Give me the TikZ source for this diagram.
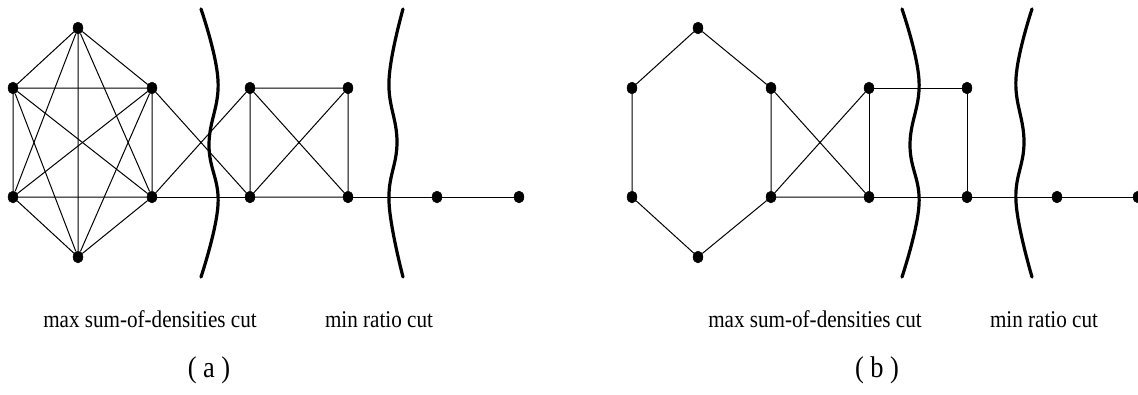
\documentclass[tikz,border=0pt]{standalone}
\usepackage{fontspec}
\setmainfont[FakeStretch=0.88]{Liberation Serif}
\usetikzlibrary{shapes.geometric}

\begin{document}
\begin{tikzpicture}[
    x=1pt,
    y=-1pt,
    node distance=98pt,
    vertex/.style={
        draw,
        fill,
        ellipse,
        inner sep=0pt,
        minimum width=10pt,
        minimum height=12pt
    },
    edge/.style={line width=1pt},
    cut/.style={line width=3.2pt, line cap=round},
    caption/.style={anchor=base, font=\fontsize{24}{24}\selectfont},
    panel/.style={anchor=base, font=\fontsize{30}{30}\selectfont}
]
\useasboundingbox (0,0) rectangle (1138,394);

% Nodes (a)
\node [vertex] (atop) at (78,28) {};
\node [vertex] (aul) at (13,88) {};
\node [vertex] (aur) at (152,88) {};
\node [vertex] (all) at (13,197) {};
\node [vertex] (alr) at (152,197) {};
\node [vertex] (abot) at (78,257) {};
\node [vertex] (asq1) at (250,88) {};
\node [vertex, right of=asq1] (asq2) {};
\node [vertex] (asq3) at (250,197) {};
\node [vertex, right of=asq3] (asq4) {};
\node [vertex, right of=asq4, node distance=89pt] (atail1) {};
\node [vertex, right of=atail1, node distance=82pt] (atail2) {};

% Edges (a)
\draw [edge] (atop) -- (aul) (atop) -- (aur) (atop) -- (all) (atop) -- (alr) (atop) -- (abot);
\draw [edge] (aul) -- (aur) (aul) -- (all) (aul) -- (alr) (aul) -- (abot);
\draw [edge] (aur) -- (all) (aur) -- (alr) (aur) -- (abot);
\draw [edge] (all) -- (alr) (all) -- (abot) (alr) -- (abot);
\draw [edge] (aur) -- (asq3) (alr) -- (asq1);
\draw [edge] (asq1) -- (asq2) -- (asq4) -- (asq3) -- (asq1) (asq1) -- (asq4) (asq2) -- (asq3);
\draw [edge] (alr) -- (asq3) (asq4) -- (atail1) -- (atail2);

% Cuts (a)
\draw [cut] plot [smooth, tension=0.7] coordinates {(201,9) (218,80) (209,145) (218,205) (201,277)};
\draw [cut] plot [smooth, tension=0.7] coordinates {(403,9) (389,80) (397,142) (389,202) (403,277)};

% Nodes (b)
\node [vertex] (btop) at (698,28) {};
\node [vertex] (bul) at (632,88) {};
\node [vertex] (bur) at (771,88) {};
\node [vertex] (bll) at (632,197) {};
\node [vertex] (blr) at (771,197) {};
\node [vertex] (bbot) at (698,257) {};
\node [vertex] (bsq1) at (869,88) {};
\node [vertex, right of=bsq1] (bsq2) {};
\node [vertex] (bsq3) at (869,197) {};
\node [vertex, right of=bsq3] (bsq4) {};
\node [vertex, right of=bsq4, node distance=90pt] (btail1) {};
\node [vertex, right of=btail1, node distance=81pt] (btail2) {};

% Edges (b)
\draw [edge] (btop) -- (bul) -- (bll) -- (bbot) -- (blr) -- (bur) -- (btop);
\draw [edge] (bur) -- (bsq3) (blr) -- (bsq1) (blr) -- (bsq3);
\draw [edge] (bsq3) -- (bsq1) -- (bsq2) -- (bsq4);
\draw [edge] (bsq3) -- (bsq4) -- (btail1) -- (btail2);

% Cuts (b)
\draw [cut] plot [smooth, tension=0.7] coordinates {(902,9) (919,80) (910,145) (919,205) (902,277)};
\draw [cut] plot [smooth, tension=0.7] coordinates {(1032,9) (1016,78) (1024,142) (1016,202) (1032,277)};

% Labels
\node [caption] (acutd) at (150,327) {max sum-of-densities cut};
\node [caption] (acutr) at (379,327) {min ratio cut};
\node [panel] (acap) at (209,377) {( a )};
\node [caption] (bcutd) at (815,327) {max sum-of-densities cut};
\node [caption] (bcutr) at (1044,327) {min ratio cut};
\node [panel] (bcap) at (877,377) {( b )};

\end{tikzpicture}
\end{document}
